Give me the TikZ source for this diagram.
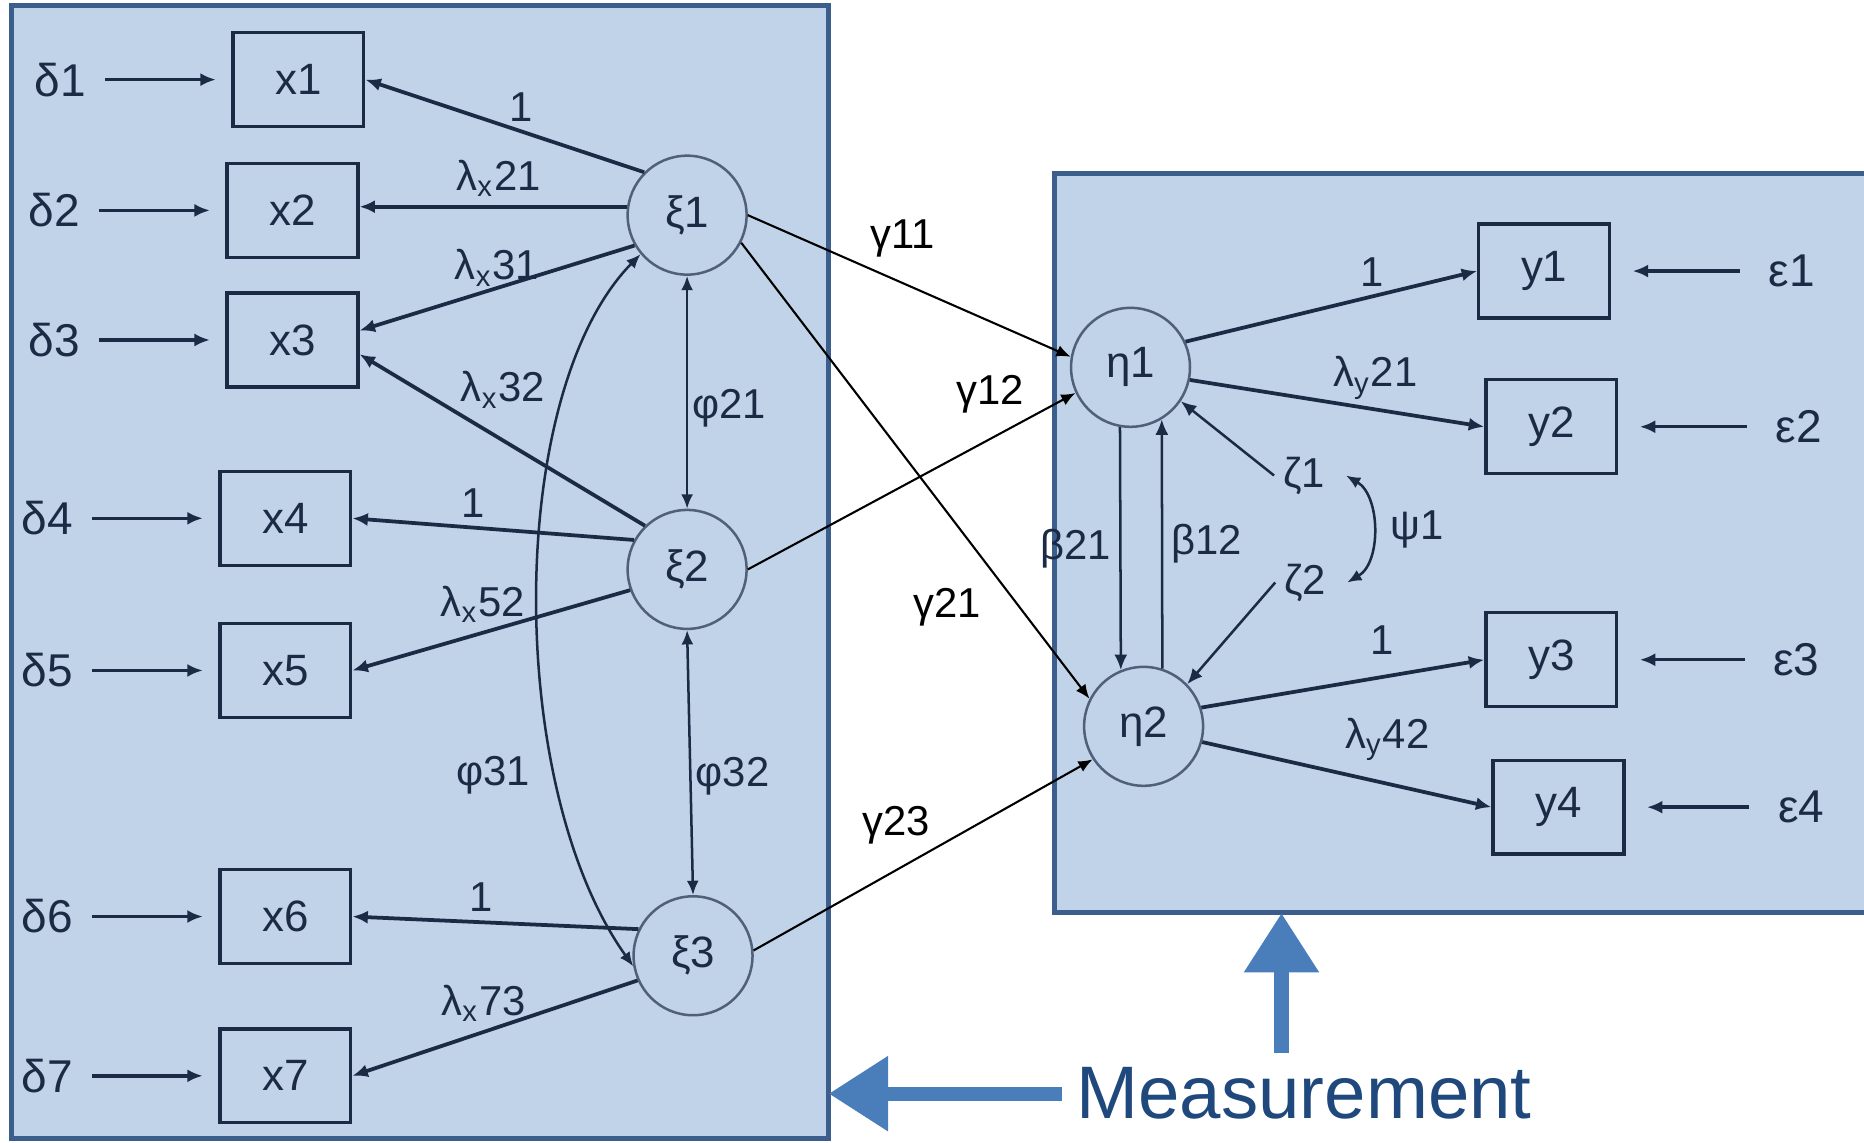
\documentclass[tikz,border=0pt]{standalone}
\usepackage{fontspec}
\setmainfont{Liberation Sans}
\usepackage{xcolor}
\usepackage{tikz}
\usetikzlibrary{arrows.meta,positioning}
\definecolor{semfill}{HTML}{C0D3E8}
\definecolor{semedge}{HTML}{3B5E8C}
\definecolor{semink}{HTML}{1C2B45}
\definecolor{semring}{HTML}{50607A}
\definecolor{semblue}{HTML}{4A7EBB}
\definecolor{semtext}{HTML}{1F497D}

\begin{document}
\begin{tikzpicture}[
        x=0.01cm, y=-0.01cm,
        font=\fontsize{10}{12}\selectfont,
        panel/.style={fill=semfill, draw=semedge, line width=1.2pt},
        obs/.style={
            draw=semink,
            line width=0.8pt,
            minimum width=1.1cm,
            minimum height=0.79cm,
            inner sep=0pt,
            text=semink,
            font=\fontsize{10.5}{12}\selectfont
        },
        latent/.style={
            circle,
            draw=semring,
            line width=0.6pt,
            minimum size=1cm,
            inner sep=0pt,
            text=semink,
            font=\fontsize{10.5}{12}\selectfont
        },
        err/.style={text=semink, inner sep=1pt, font=\fontsize{11}{13}\selectfont},
        lbl/.style={text=semink, inner sep=2pt},
        glbl/.style={text=black, inner sep=2pt},
        errarrow/.style={-{Latex[length=1.3mm,width=1.1mm]},semink,line width=0.8pt},
        load/.style={-{Latex[length=1.3mm,width=1.1mm]},semink,line width=0.9pt},
        gamma/.style={-{Latex[length=1.2mm,width=1mm]},black,line width=0.5pt},
        cov/.style={{Latex[length=1.2mm,width=1mm]}-{Latex[length=1.2mm,width=1mm]},semink,line width=0.6pt},
        bigarrow/.style={semblue,line width=3.4pt,-{Triangle[length=5mm,width=6mm]}}
    ]
        \clip (0,0) rectangle (1568,961);

        % the two panels
        \path[panel] (10,5) rectangle (697,958);
        \path[panel] (887,146) rectangle (1600,768);
        \coordinate (leftedge) at (697,921);
        \coordinate (rightedge) at (1078,768);

        % exogenous side
        \node[obs] (x1) at (251,67) {x1};
        \node[obs] (x2) at (246,177) {x2};
        \node[obs] (x3) at (246,286) {x3};
        \node[obs] (x4) at (240,436) {x4};
        \node[obs] (x5) at (240,564) {x5};
        \node[obs] (x6) at (240,771) {x6};
        \node[obs] (x7) at (240,905) {x7};

        \node[err, left=1.18cm of x1] (d1) {δ1};
        \node[err, left=1.18cm of x2] (d2) {δ2};
        \node[err, left=1.18cm of x3] (d3) {δ3};
        \node[err, left=1.18cm of x4] (d4) {δ4};
        \node[err, left=1.18cm of x5] (d5) {δ5};
        \node[err, left=1.18cm of x6] (d6) {δ6};
        \node[err, left=1.18cm of x7] (d7) {δ7};

        \node[latent] (xi1) at (578,181) {ξ1};
        \node[latent] (xi2) at (578,479) {ξ2};
        \node[latent] (xi3) at (583,804) {ξ3};

        % endogenous side
        \node[latent] (eta1) at (951,309) {η1};
        \node[latent] (eta2) at (962,611) {η2};

        \node[obs] (y1) at (1299,228) {y1};
        \node[obs] (y2) at (1305,359) {y2};
        \node[obs] (y3) at (1305,555) {y3};
        \node[obs] (y4) at (1311,679) {y4};

        \node[err, right=1.28cm of y1] (e1) {ε1};
        \node[err, right=1.28cm of y2] (e2) {ε2};
        \node[err, right=1.26cm of y3] (e3) {ε3};
        \node[err, right=1.24cm of y4] (e4) {ε4};

        \node[lbl] (zeta1) at (1097,400) {ζ1};
        \node[lbl] (zeta2) at (1098,490) {ζ2};

        \node[text=semtext, font=\fontsize{17.8}{20}\selectfont] (meas) at (1097,920) {Measurement};

        % errors
        \draw[errarrow, shorten <=1.2mm, shorten >=1.3mm] (d1) -- (x1);
        \draw[errarrow, shorten <=1.2mm, shorten >=1.3mm] (d2) -- (x2);
        \draw[errarrow, shorten <=1.2mm, shorten >=1.3mm] (d3) -- (x3);
        \draw[errarrow, shorten <=1.2mm, shorten >=1.3mm] (d4) -- (x4);
        \draw[errarrow, shorten <=1.2mm, shorten >=1.3mm] (d5) -- (x5);
        \draw[errarrow, shorten <=1.2mm, shorten >=1.3mm] (d6) -- (x6);
        \draw[errarrow, shorten <=1.2mm, shorten >=1.3mm] (d7) -- (x7);
        \draw[errarrow, shorten <=2mm, shorten >=1.8mm] (e1) -- (y1);
        \draw[errarrow, shorten <=2mm, shorten >=1.8mm] (e2) -- (y2);
        \draw[errarrow, shorten <=2mm, shorten >=1.8mm] (e3) -- (y3);
        \draw[errarrow, shorten <=2mm, shorten >=1.8mm] (e4) -- (y4);

        % loadings
        \draw[load] (xi1.135) -- node[lbl, pos=0.44, above]{1} (x1.east);
        \draw[load] (xi1.172) -- node[lbl, pos=0.48, above]{λ\textsubscript{x}21} (x2.east |- xi1.172);
        \draw[load] (xi1.210) -- node[lbl, pos=0.5, above=-2pt]{λ\textsubscript{x}31} (x3.8);
        \draw[load] (xi2.134) -- node[lbl, pos=0.66, above right=-2pt]{λ\textsubscript{x}32} (x3.-12);
        \draw[load] (xi2.151) -- node[lbl, pos=0.57, above]{1} (x4.east);
        \draw[load] (xi2.200) -- node[lbl, pos=0.53, above]{λ\textsubscript{x}52} (x5.east);
        \draw[load] (xi3.154) -- node[lbl, pos=0.55, above]{1} (x6.east);
        \draw[load] (xi3.204) -- node[lbl, pos=0.54, above]{λ\textsubscript{x}73} (x7.east);
        \draw[load] (eta1.25) -- node[lbl, pos=0.64, above]{1} (y1.west);
        \draw[load] (eta1.-12) -- node[lbl, pos=0.63, above]{λ\textsubscript{y}21} (y2.west);
        \draw[load] (eta2.18) -- node[lbl, pos=0.64, above=3pt]{1} (y3.west);
        \draw[load] (eta2.-15) -- node[lbl, pos=0.64, above=3pt]{λ\textsubscript{y}42} (y4.west);

        % covariances
        \draw[cov] (xi1.south) -- node[lbl, right=-1pt, pos=0.57]{φ21} (xi2.north);
        \draw[cov] (xi2.south) -- node[lbl, right=-1pt, pos=0.55]{φ32} (xi3.north);
        \draw[cov] (xi1.220) .. controls (425,330) and (425,662) .. (xi3.190)
            node[lbl, pos=0.72, left=4pt]{φ31};
        \draw[cov] ([xshift=1mm]zeta1.east) .. controls +(29,17) and +(29,-17) .. ([xshift=1mm]zeta2.east)
            node[lbl, pos=0.5, right=2pt]{ψ1};

        % structural paths
        \draw[gamma] (xi1.east) -- node[glbl, pos=0.48, above=4pt]{γ11} (eta1.170);
        \draw[gamma] (xi2.east) -- node[glbl, pos=0.74, above=4pt]{γ12} (eta1.205);
        \draw[gamma] (xi1.-27) -- node[glbl, pos=0.8, left=7pt]{γ21} (eta2.153);
        \draw[gamma] (xi3.5) -- node[glbl, pos=0.42, above=4pt]{γ23} (eta2.213);
        \draw[load, line width=0.6pt] (eta1.260) -- node[lbl, left]{β21} (eta2.112);
        \draw[load, line width=0.6pt] (eta2.72) -- node[lbl, right]{β12} (eta1.-59);
        \draw[load, line width=0.6pt] (zeta1.west) -- (eta1.-34);
        \draw[load, line width=0.6pt] (zeta2.west) -- (eta2.44);

        % pointers from the caption
        \draw[bigarrow] (meas.west) -- (leftedge |- meas.west);
        \draw[bigarrow] (rightedge |- meas.north) -- (rightedge);
    \end{tikzpicture}
\end{document}
